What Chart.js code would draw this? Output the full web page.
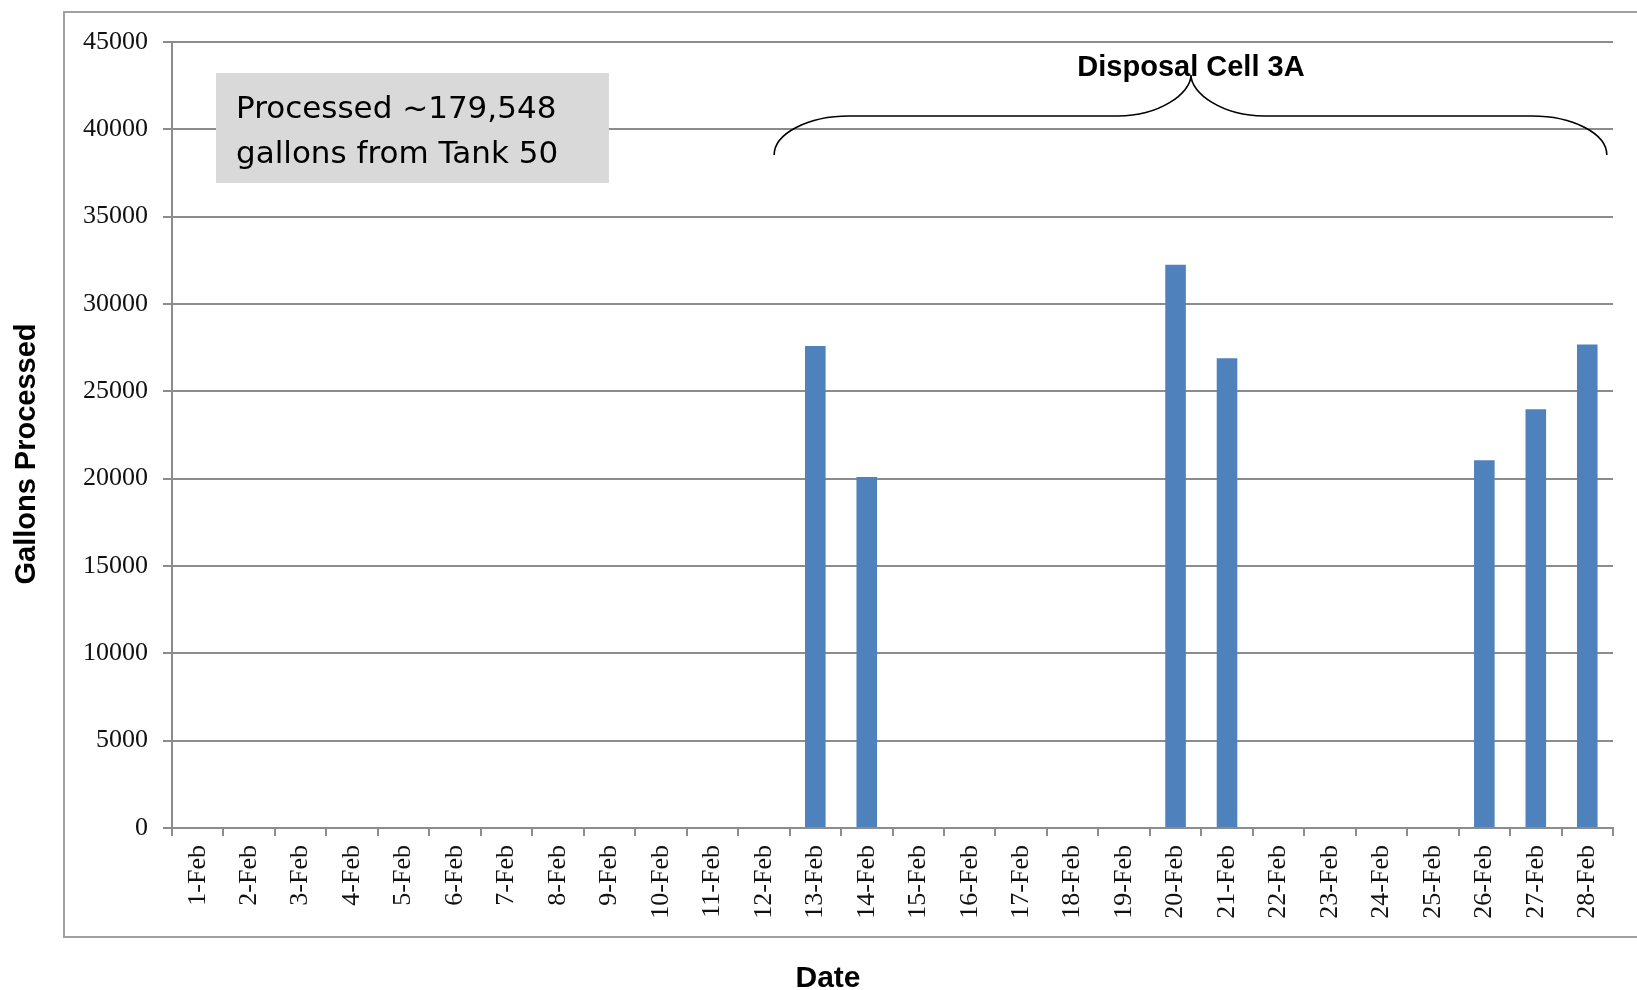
<!DOCTYPE html>
<html>
<head>
<meta charset="utf-8">
<script src="https://cdn.jsdelivr.net/npm/chart.js@4"></script>
<style>
  html, body { margin: 0; padding: 0; background: #fff; }
  #wrap { width: 1637px; height: 990px; position: relative; }
</style>
</head>
<body>
<div id="wrap"><canvas id="gallonsChart"></canvas></div>
<script>
const dates = ['1-Feb', '2-Feb', '3-Feb', '4-Feb', '5-Feb', '6-Feb', '7-Feb',
  '8-Feb', '9-Feb', '10-Feb', '11-Feb', '12-Feb', '13-Feb', '14-Feb',
  '15-Feb', '16-Feb', '17-Feb', '18-Feb', '19-Feb', '20-Feb', '21-Feb',
  '22-Feb', '23-Feb', '24-Feb', '25-Feb', '26-Feb', '27-Feb', '28-Feb'];
const gallons = [0, 0, 0, 0, 0, 0, 0, 0, 0, 0, 0, 0, 27600, 20100,
  0, 0, 0, 0, 0, 32250, 26900, 0, 0, 0, 0, 21050, 23970, 27678];
const yMax = 45000;
const yStep = 5000;
const noteLines = ['Processed ~179,548', 'gallons from Tank 50'];
const cellLabel = 'Disposal Cell 3A';
// bracket over the disposal cell days (category index / gallons)
const bracketFrom = 11.2, bracketTo = 27.38, bracketTip = 19.3;
const bracketEndY = 38530, bracketMidY = 40763, bracketTipY = 43110;

const GRID = '#8c8c8c';

const overlay = {
  id: 'overlay',
  beforeDraw(chart) {
    const ctx = chart.ctx;
    ctx.save();
    ctx.fillStyle = '#fff';
    ctx.fillRect(0, 0, chart.width, chart.height);
    // outer frame, right side runs off the picture
    ctx.strokeStyle = '#a0a0a0';
    ctx.lineWidth = 2;
    ctx.strokeRect(64, 12, 1620, 925);
    ctx.restore();
  },
  afterDraw(chart) {
    const {ctx, scales: {x, y}} = chart;
    ctx.save();

    // note box
    const bx0 = x.getPixelForValue(0.355), bx1 = x.getPixelForValue(7.99);
    const by0 = y.getPixelForValue(43225), by1 = y.getPixelForValue(36927);
    ctx.fillStyle = '#d9d9d9';
    ctx.fillRect(bx0, by0, bx1 - bx0, by1 - by0);
    ctx.fillStyle = '#000';
    ctx.font = '31px "DejaVu Sans", sans-serif';
    ctx.textAlign = 'left';
    ctx.textBaseline = 'alphabetic';
    ctx.fillText(noteLines[0], bx0 + 20, by0 + 45);
    ctx.fillText(noteLines[1], bx0 + 20, by0 + 90);

    // curly bracket
    const L = x.getPixelForValue(bracketFrom), R = x.getPixelForValue(bracketTo);
    const T = x.getPixelForValue(bracketTip);
    const yE = y.getPixelForValue(bracketEndY), yM = y.getPixelForValue(bracketMidY);
    const yT = y.getPixelForValue(bracketTipY);
    const c = 75;
    const k = 0.55;
    ctx.strokeStyle = '#000';
    ctx.lineWidth = 1.6;
    ctx.beginPath();
    ctx.moveTo(L, yE);
    ctx.bezierCurveTo(L, yE - k * (yE - yM), L + c - k * c, yM, L + c, yM);
    ctx.lineTo(T - c + 2, yM);
    ctx.bezierCurveTo(T - c + 2 + k * c, yM, T, yM - k * (yM - yT), T, yT);
    ctx.bezierCurveTo(T, yM - k * (yM - yT), T + c - 2 - k * c, yM, T + c - 2, yM);
    ctx.lineTo(R - c, yM);
    ctx.bezierCurveTo(R - c + k * c, yM, R, yE - k * (yE - yM), R, yE);
    ctx.stroke();

    ctx.font = 'bold 29px "Liberation Sans", Arial, sans-serif';
    ctx.textAlign = 'center';
    ctx.fillText(cellLabel, T, y.getPixelForValue(43053));

    // axis titles
    ctx.font = 'bold 30px "Liberation Sans", Arial, sans-serif';
    ctx.fillText('Date', 828, 987);
    ctx.translate(35, 454);
    ctx.rotate(-Math.PI / 2);
    ctx.font = 'bold 29px "Liberation Sans", Arial, sans-serif';
    ctx.fillText('Gallons Processed', 0, 0);
    ctx.restore();
  }
};

new Chart(document.getElementById('gallonsChart'), {
  type: 'bar',
  data: {
    labels: dates,
    datasets: [{
      label: 'Gallons Processed',
      data: gallons,
      backgroundColor: '#4f81bd',
      borderWidth: 0,
      barPercentage: 0.4,
      categoryPercentage: 1
    }]
  },
  options: {
    responsive: true,
    maintainAspectRatio: false,
    animation: false,
    layout: {
      padding: {top: 42, right: 24, bottom: 0, left: 0}
    },
    plugins: {
      legend: {display: false},
      tooltip: {enabled: false}
    },
    scales: {
      x: {
        afterFit: (scale) => { scale.height = 162; },
        grid: {
          display: true,
          drawOnChartArea: false,
          offset: true,
          color: GRID,
          lineWidth: 2,
          tickLength: 8
        },
        border: {display: true, color: GRID, width: 2},
        ticks: {
          autoSkip: false,
          minRotation: 90,
          maxRotation: 90,
          padding: 9,
          color: '#111',
          font: {family: '"Liberation Serif", "Times New Roman", serif', size: 26}
        }
      },
      y: {
        min: 0,
        max: yMax,
        afterFit: (scale) => { scale.width = 172; },
        grid: {
          color: GRID,
          lineWidth: 2,
          tickLength: 9
        },
        border: {display: true, color: GRID, width: 2},
        ticks: {
          stepSize: yStep,
          padding: 15,
          color: '#111',
          font: {family: '"Liberation Serif", "Times New Roman", serif', size: 26},
          callback: (value) => String(value)
        }
      }
    }
  },
  plugins: [overlay]
});
</script>
</body>
</html>
